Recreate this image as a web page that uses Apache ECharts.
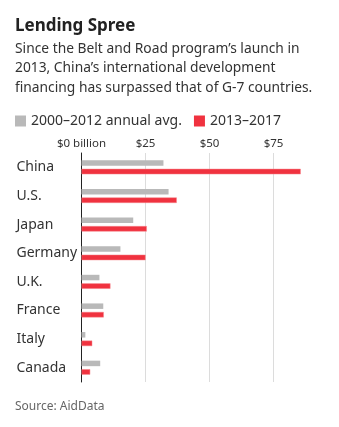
<!DOCTYPE html>
<html><head><meta charset="utf-8">
<script src="https://cdn.jsdelivr.net/npm/echarts@6/dist/echarts.min.js"></script>
<style>html,body{margin:0;padding:0;background:#fff}#c{width:339px;height:427px}</style>
</head><body><div id="c"></div>
<script>
const categories = ['China','U.S.','Japan','Germany','U.K.','France','Italy','Canada'];
const avg2000_2012 = [32, 34, 20.2, 15.2, 7, 8.5, 1.5, 7.3];
const y2013_2017 = [85.6, 37.2, 25.5, 25, 11.3, 8.7, 4.2, 3.4];
const tickValues = [0, 25, 50, 75];
const seriesNames = ['2000–2012 annual avg.', '2013–2017'];
const FONT = '"Noto Sans", sans-serif';
const chart = echarts.init(document.getElementById('c'));
chart.setOption({
  animation: false,
  textStyle: {fontFamily: FONT},
  title: [
    {text: 'Lending Spree', left: 15, top: 18, padding: 0, textStyle: {fontFamily: FONT, fontSize: 17, fontWeight: 'bold', color: '#222'}},
    {text: 'Since the Belt and Road program’s launch in\n2013, China’s international development\nfinancing has surpassed that of G-7 countries.', left: 15, top: 39, padding: 0,
      textStyle: {fontFamily: FONT, fontSize: 13.8, fontWeight: 'normal', color: '#333', lineHeight: 19.7}},
    {text: 'Source: AidData', left: 15, top: 401, padding: 0, textStyle: {fontFamily: FONT, fontSize: 12, fontWeight: 'normal', color: '#666'}}
  ],
  legend: {
    left: 15, top: 114, padding: 0, icon: 'rect', itemWidth: 11, itemHeight: 11, itemGap: 12,
    itemStyle: {borderWidth: 0},
    textStyle: {fontFamily: FONT, fontSize: 14, color: '#333'},
    data: seriesNames
  },
  grid: {left: 81.5, right: 27, top: 153, bottom: 45, containLabel: false},
  xAxis: {
    type: 'value', position: 'top', min: 0, max: 90, interval: 25,
    axisLine: {show: false}, axisTick: {show: false},
    axisLabel: {margin: 3, fontSize: 11.5, color: '#333', showMaxLabel: false,
      formatter: v => tickValues.includes(v) ? (v === 0 ? '$0 billion' : '$' + v) : ''},
    splitLine: {lineStyle: {color: ['#dcdcdc','#dcdcdc','#dcdcdc','#dcdcdc','rgba(0,0,0,0)'], width: 1}}
  },
  yAxis: {
    type: 'category', inverse: true, data: categories,
    axisLine: {show: true, lineStyle: {color: '#222', width: 1}},
    axisTick: {show: false},
    axisLabel: {align: 'left', margin: 65, fontSize: 14, color: '#333', padding: [7,0,0,0]}
  },
  series: [
    {name: seriesNames[0], type: 'bar', data: avg2000_2012, barWidth: 5.5, barGap: '55%',
      itemStyle: {color: '#b9b9b9'}},
    {name: seriesNames[1], type: 'bar', data: y2013_2017, barWidth: 5.5,
      itemStyle: {color: '#f0323f', borderColor: '#f6868c', borderWidth: 0.5}}
  ]
});
</script></body></html>
